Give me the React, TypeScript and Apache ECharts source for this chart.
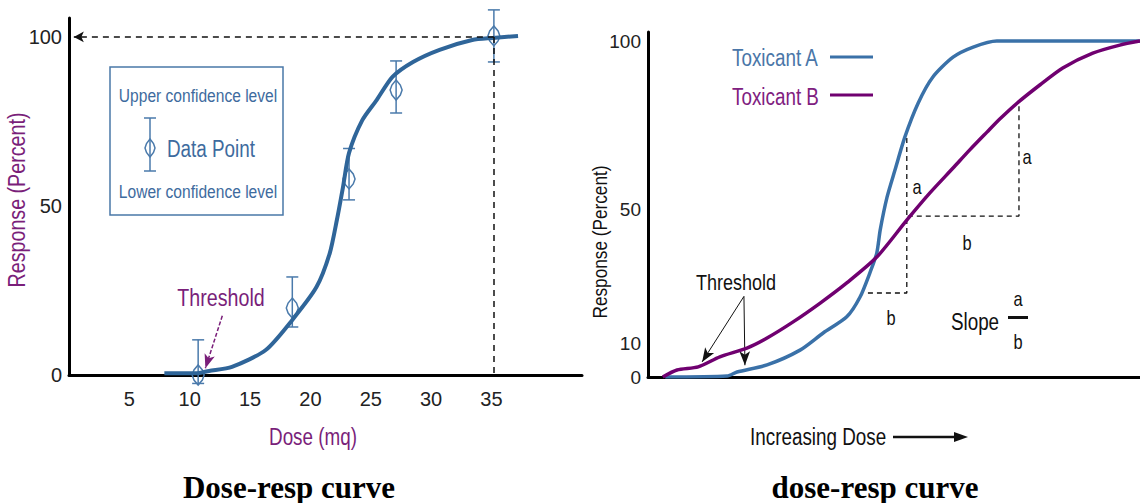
import React, { useEffect, useRef } from "react";
import * as echarts from "echarts";

// ---------- Left panel data ----------
const leftXTicks = [5, 10, 15, 20, 25, 30, 35];
const leftYTicks = [0, 50, 100];
const curveDose = [7.9, 10.5, 11.6, 13.5, 16.3, 18.5, 20.5, 21.6, 22.2, 22.7, 23.2, 24.3, 25.5, 26.8, 28.5, 30.7, 33.4, 35.1, 37.2];
const curveResp = [0.5, 0.5, 1.2, 2.4, 7.4, 16.3, 26, 36, 46, 55.6, 65.7, 75.4, 81.4, 88.2, 92.6, 96.2, 99.1, 99.7, 100.3];
const pointDose = [10.7, 18.5, 23.2, 27.1, 35.2];
const pointResp = [0, 19.8, 58, 84.3, 100.3];
const pointLow = [-2.5, 14.2, 51.8, 77.5, 92.6];
const pointHigh = [10.4, 29, 67, 92.9, 108];
const refDose = 35.2;
const refResp = 100;
const leftThresholdFrom = [12.7, 17.5];
const leftThresholdTo = [11.3, 2];

// ---------- Right panel data ----------
const rightYTicks = [0, 10, 50, 100];
const doseA = [3.5, 16.1, 18.1, 24.2, 30.9, 35.6, 40.4, 43.1, 45.1, 46.5, 47.2, 48.6, 50.2, 52.2, 54.9, 57.9, 62.0, 66.1, 70.9, 100];
const respA = [0, 0.3, 1.5, 3.6, 8.0, 13.1, 17.9, 23.8, 31.0, 36.9, 43.8, 53.6, 61.6, 71.4, 81.5, 89.3, 95.2, 98.2, 100, 100];
const doseB = [3.0, 5.9, 10.2, 14.6, 20.1, 24.2, 29.5, 35.0, 40.4, 46.5, 52.6, 57.3, 62.0, 65.4, 68.9, 71.5, 75.0, 79.7, 84.3, 90.4, 95.9, 100];
const respB = [0, 2.1, 3.0, 6.0, 8.6, 11.6, 16.4, 22.0, 28.0, 35.7, 46.7, 54.8, 62.2, 67.6, 72.9, 76.8, 81.5, 87.0, 92.0, 96.4, 98.8, 100];
const slopeADose = [44.7, 52.6, 52.6];
const slopeAResp = [25, 25, 71.4];
const slopeBDose = [52.8, 75.4, 75.4];
const slopeBResp = [47.9, 47.9, 80.7];
const rightThresholdFrom = [19.5, 24];
const rightThresholdTargets = [[11.0, 4.5], [19.7, 3.5]];

const SANS = '"Liberation Sans", Arial, sans-serif';
const SERIF = '"Liberation Serif", "Times New Roman", serif';
const NARROW_SCALE = 0.82;
const PURPLE_TXT = "#7a1f7a";
const BLUE_TXT = "#3e6b9e";
const CURVE_BLUE = "#2f6599";
const BAR_BLUE = "#4a7aab";
const A_BLUE = "#3a71a8";
const B_PURPLE = "#700070";

function diamond(cx: number, cy: number, w: number, h: number) {
  return [
    [cx, cy - h],
    [cx + w * 0.7, cy - h * 0.5],
    [cx + w, cy],
    [cx + w * 0.7, cy + h * 0.5],
    [cx, cy + h],
    [cx - w * 0.7, cy + h * 0.5],
    [cx - w, cy],
    [cx - w * 0.7, cy - h * 0.5],
  ];
}

function txt(text: string, x: number, y: number, size: number, fill: string, align = "left", extra: any = {}) {
  return {
    type: "text",
    x,
    y,
    scaleX: NARROW_SCALE,
    ...extra,
    style: { text, fill, fontSize: size, fontFamily: SANS, align, verticalAlign: "middle" },
  };
}

export default function App() {
  const ref = useRef<HTMLDivElement>(null);
  useEffect(() => {
    if (!ref.current) return;
    const chart = echarts.init(ref.current, null, { renderer: "svg" });
    const barStyle = { stroke: BAR_BLUE, lineWidth: 1.5, fill: "none" };
    const option: any = {
      animation: false,
      grid: [
        { left: 69, top: 18, width: 513, height: 357 },
        { left: 648, top: 32, width: 492, height: 345 },
      ],
      xAxis: [
        {
          gridIndex: 0, type: "value", min: 0, max: 42.5,
          axisLine: { show: true, onZero: false, lineStyle: { color: "#000", width: 3 } },
          axisTick: { show: false }, splitLine: { show: false },
          axisLabel: { customValues: leftXTicks, fontFamily: SANS, fontSize: 20, color: "#222", margin: 14 },
        },
        {
          gridIndex: 1, type: "value", min: 0, max: 100,
          axisLine: { show: true, onZero: false, lineStyle: { color: "#000", width: 3 } },
          axisTick: { show: false }, splitLine: { show: false }, axisLabel: { show: false },
        },
      ],
      yAxis: [
        {
          gridIndex: 0, type: "value", min: 0, max: 105.6,
          axisLine: { show: true, onZero: false, lineStyle: { color: "#000", width: 3 } },
          axisTick: { show: false }, splitLine: { show: false },
          axisLabel: { customValues: leftYTicks, fontFamily: SANS, fontSize: 20, color: "#222", margin: 7 },
        },
        {
          gridIndex: 1, type: "value", min: 0, max: 102.7,
          axisLine: { show: true, onZero: false, lineStyle: { color: "#000", width: 3 } },
          axisTick: { show: false }, splitLine: { show: false },
          axisLabel: { customValues: rightYTicks, fontFamily: SANS, fontSize: 19, color: "#222", margin: 7 },
        },
      ],
      series: [
        {
          type: "custom",
          xAxisIndex: 0, yAxisIndex: 0,
          clip: false,
          encode: { x: 0, y: 1 },
          data: pointDose.map((d, i) => [d, pointResp[i], pointLow[i], pointHigh[i]]),
          renderItem: (params: any, api: any) => {
            const x = api.value(0);
            const c = api.coord([x, api.value(1)]);
            const l = api.coord([x, api.value(2)]);
            const h = api.coord([x, api.value(3)]);
            const w = 6;
            return {
              type: "group",
              children: [
                { type: "line", shape: { x1: h[0], y1: h[1], x2: l[0], y2: l[1] }, style: barStyle },
                { type: "line", shape: { x1: h[0] - w, y1: h[1], x2: h[0] + w, y2: h[1] }, style: barStyle },
                { type: "line", shape: { x1: l[0] - w, y1: l[1], x2: l[0] + w, y2: l[1] }, style: barStyle },
                { type: "polygon", shape: { points: diamond(c[0], c[1], 6, 10) }, style: barStyle },
              ],
            };
          },
          z: 3,
        },
        {
          type: "line",
          xAxisIndex: 0, yAxisIndex: 0,
          data: curveDose.map((d, i) => [d, curveResp[i]]),
          showSymbol: false, symbol: "none", smooth: 0.25,
          lineStyle: { color: CURVE_BLUE, width: 4 },
          z: 4,
          markLine: {
            silent: true, animation: false,
            label: { show: false },
            symbol: ["none", "none"],
            data: [
              [
                { coord: [refDose, refResp], symbol: "none", lineStyle: { color: "#111", type: [6, 5], width: 1.5 } },
                { coord: [0.4, refResp], symbol: "arrow", symbolSize: [8, 10] },
              ],
              [
                { coord: [refDose, refResp], symbol: "none", lineStyle: { color: "#111", type: [6, 5], width: 1.5 } },
                { coord: [refDose, 0], symbol: "none" },
              ],
              [
                { coord: leftThresholdFrom, symbol: "none", lineStyle: { color: PURPLE_TXT, type: [4, 2], width: 1.5 } },
                { coord: leftThresholdTo, symbol: "arrow", symbolSize: [8, 14] },
              ],
            ],
          },
        },
        {
          type: "line", name: "slopeA",
          xAxisIndex: 1, yAxisIndex: 1,
          data: slopeADose.map((d, i) => [d, slopeAResp[i]]),
          symbol: "none", lineStyle: { color: "#111", type: [5, 4], width: 1.3 },
        },
        {
          type: "line", name: "slopeB",
          xAxisIndex: 1, yAxisIndex: 1,
          data: slopeBDose.map((d, i) => [d, slopeBResp[i]]),
          symbol: "none", lineStyle: { color: "#111", type: [5, 4], width: 1.3 },
        },
        {
          type: "line", name: "Toxicant A",
          xAxisIndex: 1, yAxisIndex: 1,
          data: doseA.map((d, i) => [d, respA[i]]),
          symbol: "none", smooth: 0.25,
          lineStyle: { color: A_BLUE, width: 3.5 },
          z: 4,
        },
        {
          type: "line", name: "Toxicant B",
          xAxisIndex: 1, yAxisIndex: 1,
          data: doseB.map((d, i) => [d, respB[i]]),
          symbol: "none", smooth: 0.25,
          lineStyle: { color: B_PURPLE, width: 3.5 },
          z: 5,
          markLine: {
            silent: true, animation: false,
            label: { show: false },
            symbol: ["none", "arrow"],
            symbolSize: [8, 14],
            lineStyle: { color: "#111", type: "solid", width: 1 },
            data: rightThresholdTargets.map((t) => [{ coord: rightThresholdFrom }, { coord: t }]),
          },
        },
      ],
      graphic: [
        // left legend box
        { type: "rect", shape: { x: 110, y: 67, width: 173, height: 148 }, style: { fill: "#fff", stroke: "#4a78a8", lineWidth: 1.5 }, z: 10 },
        { ...txt("Upper confidence level", 198, 95, 19, BLUE_TXT, "center"), z: 11 },
        { ...txt("Data Point", 167, 149, 23, BLUE_TXT, "left"), z: 11 },
        { ...txt("Lower confidence level", 198, 191, 19, BLUE_TXT, "center"), z: 11 },
        { type: "line", shape: { x1: 150, y1: 118, x2: 150, y2: 171 }, style: barStyle, z: 11 },
        { type: "line", shape: { x1: 144, y1: 118, x2: 156, y2: 118 }, style: barStyle, z: 11 },
        { type: "line", shape: { x1: 144, y1: 171, x2: 156, y2: 171 }, style: barStyle, z: 11 },
        { type: "polygon", shape: { points: diamond(150, 148, 5, 9) }, style: barStyle, z: 11 },
        // left texts
        txt("Threshold", 221, 298, 24, PURPLE_TXT, "center"),
        txt("Response (Percent)", 17, 200, 24, PURPLE_TXT, "center", { rotation: Math.PI / 2 }),
        txt("Dose (mq)", 313, 437, 23, PURPLE_TXT, "center"),
        {
          type: "text", x: 289, y: 487,
          style: { text: "Dose-resp curve", fill: "#000", fontSize: 31, fontWeight: "bold", fontFamily: SERIF, align: "center", verticalAlign: "middle" },
        },
        // right legend
        txt("Toxicant A", 732, 58, 23, "#4a76a8", "left"),
        { type: "line", shape: { x1: 830, y1: 57, x2: 873, y2: 57 }, style: { stroke: A_BLUE, lineWidth: 3 } },
        txt("Toxicant B", 732, 97, 23, "#80207f", "left"),
        { type: "line", shape: { x1: 830, y1: 95, x2: 873, y2: 95 }, style: { stroke: B_PURPLE, lineWidth: 3 } },
        // right annotations
        txt("Threshold", 736, 282, 22, "#111", "center"),
        txt("a", 917, 187, 20, "#111", "center"),
        txt("a", 1027, 157, 20, "#111", "center"),
        txt("b", 967, 243, 20, "#111", "center"),
        txt("b", 891, 318, 20, "#111", "center"),
        txt("Slope", 975, 322, 23, "#111", "center"),
        txt("a", 1018, 299, 20, "#111", "center"),
        { type: "rect", shape: { x: 1008, y: 316, width: 20, height: 3 }, style: { fill: "#111" } },
        txt("b", 1018, 342, 20, "#111", "center"),
        txt("Response (Percent)", 600, 242, 21, "#111", "center", { rotation: Math.PI / 2 }),
        txt("Increasing Dose", 750, 437, 23, "#111", "left"),
        { type: "line", shape: { x1: 893, y1: 437, x2: 958, y2: 437 }, style: { stroke: "#111", lineWidth: 2.5 } },
        { type: "polygon", shape: { points: [[954, 432], [968, 437], [954, 442]] }, style: { fill: "#111" } },
        {
          type: "text", x: 875, y: 487,
          style: { text: "dose-resp curve", fill: "#000", fontSize: 31, fontWeight: "bold", fontFamily: SERIF, align: "center", verticalAlign: "middle" },
        },
      ],
    };
    chart.setOption(option);
    return () => chart.dispose();
  }, []);
  return (
    <div
      ref={ref}
      style={{ position: "absolute", left: 0, top: 0, width: 1140, height: 503, background: "#fff" }}
    />
  );
}
